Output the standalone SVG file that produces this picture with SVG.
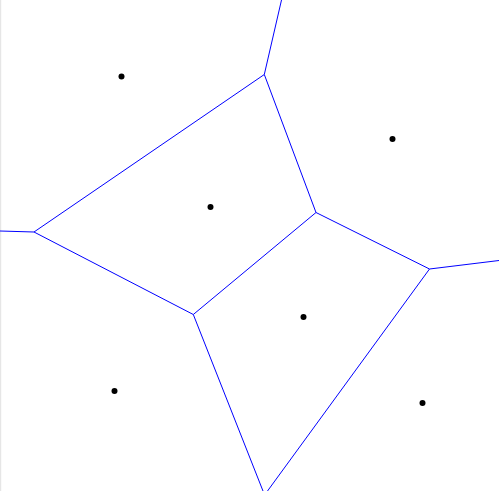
<svg xmlns="http://www.w3.org/2000/svg" width="499" height="491" viewBox="0 0 499 491">
<style>
.e{stroke:#0000ff;stroke-width:1;fill:none}
.p{fill:#000}
</style>
<rect x="0" y="0" width="499" height="491" fill="#fff"/>
<rect x="0" y="0" width="1.2" height="491" fill="#e6e6e6"/>
<g id="edges">
<line class="e" x1="281.5" y1="0" x2="264.3" y2="74.5"/>
<line class="e" x1="264.3" y1="74.5" x2="34" y2="232"/>
<line class="e" x1="0" y1="231" x2="34" y2="232"/>
<line class="e" x1="264.3" y1="74.5" x2="316" y2="212.5"/>
<line class="e" x1="34" y1="232" x2="193.3" y2="314.5"/>
<line class="e" x1="193.3" y1="314.5" x2="316" y2="212.5"/>
<line class="e" x1="316" y1="212.5" x2="429.5" y2="269"/>
<line class="e" x1="429.5" y1="269" x2="499" y2="260.5"/>
<line class="e" x1="429.5" y1="269" x2="267.5" y2="491"/>
<line class="e" x1="193.3" y1="314.5" x2="263" y2="491"/>
</g>
<g id="site1"><circle class="p" cx="121.5" cy="76.5" r="3"/></g>
<g id="site2"><circle class="p" cx="392.5" cy="139" r="3"/></g>
<g id="site3"><circle class="p" cx="210.5" cy="207" r="3"/></g>
<g id="site4"><circle class="p" cx="303.5" cy="317" r="3"/></g>
<g id="site5"><circle class="p" cx="114.5" cy="391" r="3"/></g>
<g id="site6"><circle class="p" cx="422.5" cy="403" r="3"/></g>
</svg>
